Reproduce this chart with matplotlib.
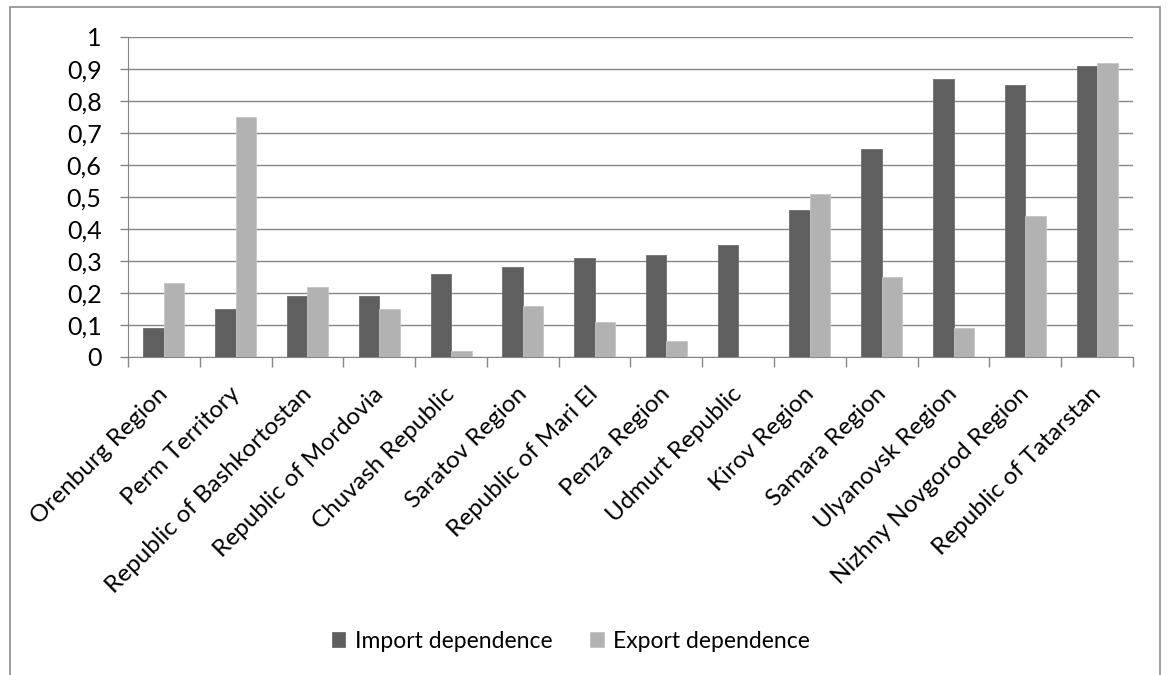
import matplotlib
matplotlib.use("Agg")
import matplotlib.pyplot as plt
from matplotlib.patches import Rectangle
from matplotlib.ticker import FixedLocator, FuncFormatter
import numpy as np

regions = [
    "Orenburg Region", "Perm Territory", "Republic of Bashkortostan",
    "Republic of Mordovia", "Chuvash Republic", "Saratov Region",
    "Republic of Mari El", "Penza Region", "Udmurt Republic", "Kirov Region",
    "Samara Region", "Ulyanovsk Region", "Nizhny Novgorod Region",
    "Republic of Tatarstan",
]
import_dependence = [0.09, 0.15, 0.19, 0.19, 0.26, 0.28, 0.31, 0.32, 0.35,
                     0.46, 0.65, 0.87, 0.85, 0.91]
export_dependence = [0.23, 0.75, 0.22, 0.15, 0.02, 0.16, 0.11, 0.05, 0.0,
                     0.51, 0.25, 0.09, 0.44, 0.92]
y_ticks = [0, 0.1, 0.2, 0.3, 0.4, 0.5, 0.6, 0.7, 0.8, 0.9, 1]
series_names = ["Import dependence", "Export dependence"]

plt.rcParams["font.family"] = ["Lato", "DejaVu Sans"]

W, H = 1168, 675
fig = plt.figure(figsize=(W / 100, H / 100), dpi=100)
ax = fig.add_axes([128 / W, 1 - 357 / H, (1133 - 128) / W, 320 / H])

grid_c = "#868686"
c_imp = "#5f5f5f"
c_exp = "#b2b2b2"

x = np.arange(len(regions))
bw = 1 / 3.5
ax.bar(x - bw / 2, import_dependence, width=bw, color=c_imp,
       edgecolor="#6e6e6e", linewidth=0.6, label=series_names[0], zorder=3)
ax.bar(x + bw / 2, export_dependence, width=bw, color=c_exp,
       edgecolor="#c4c4c4", linewidth=0.6, label=series_names[1], zorder=3)

ax.set_xlim(-0.5, len(regions) - 0.5)
ax.set_ylim(0, 1)
ax.yaxis.set_major_locator(FixedLocator(y_ticks))
ax.yaxis.set_major_formatter(FuncFormatter(
    lambda v, p: "0" if v == 0 else ("1" if abs(v - 1) < 1e-9 else f"{v:.1f}".replace(".", ","))))
ax.grid(axis="y", color=grid_c, linewidth=1.0, zorder=0)
ax.set_axisbelow(True)

for s in ["top", "right"]:
    ax.spines[s].set_visible(False)
ax.spines["left"].set_color(grid_c)
ax.spines["bottom"].set_color(grid_c)
ax.tick_params(axis="y", length=6, width=1, color=grid_c, labelsize=18,
               pad=13, labelcolor="#000000")

# category boundaries carry the x tick marks
ax.set_xticks(np.arange(-0.5, len(regions), 1.0))
ax.set_xticklabels([])
ax.tick_params(axis="x", length=7, width=1, color=grid_c)
for i, name in enumerate(regions):
    ax.annotate(name, xy=(i, 0), xycoords=("data", "axes fraction"),
                xytext=(-5, -19), textcoords="offset points",
                rotation=45, ha="right", va="top", fontsize=17.5,
                rotation_mode="anchor")

leg = fig.legend(loc="center", bbox_to_anchor=(0.4886, 1 - 641 / H), ncol=2,
                 frameon=False, fontsize=16.5, handlelength=0.6,
                 handleheight=0.6, handletextpad=0.4, columnspacing=1.65)

# outer chart border
fig.patches.append(Rectangle((10 / W, -0.05), (1160 - 10) / W, 1.05 - 7 / H,
                             transform=fig.transFigure, fill=False,
                             edgecolor="#8c8c8c", linewidth=1.2))

fig.savefig("out.png", dpi=100)
